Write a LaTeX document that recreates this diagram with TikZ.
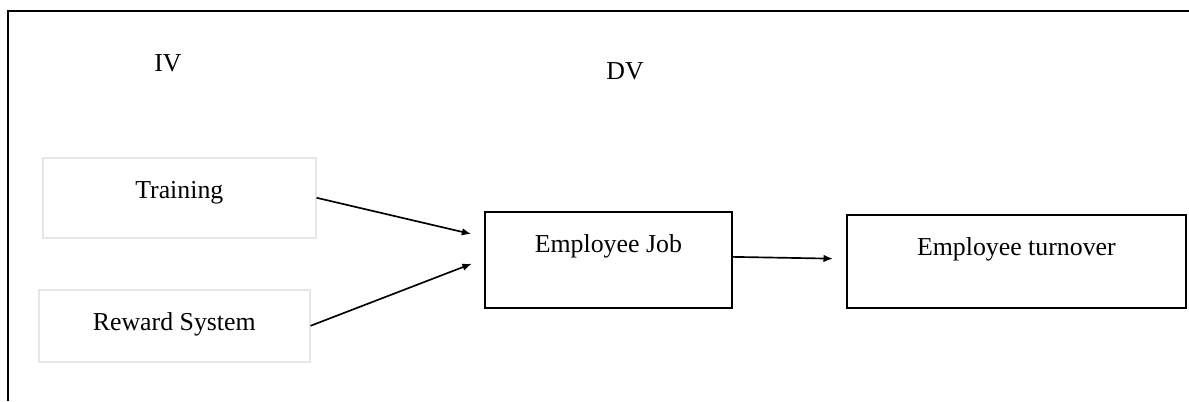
\documentclass[tikz,border=0pt]{standalone}
\usepackage{fontspec}
\setmainfont{Liberation Serif}
\usetikzlibrary{arrows.meta, positioning}
\definecolor{borde}{HTML}{E6E6E2}
\tikzset{
  every picture/.style={font=\fontsize{14.7}{17}\selectfont, >=Latex},
  ivbox/.style={draw=borde, line width=0.9pt, anchor=north west, inner xsep=0pt, inner ysep=0pt,
              text height=0.82cm, align=center},
  dvbox/.style={draw=black, line width=1pt, anchor=north west, inner xsep=0pt, inner ysep=0pt,
              text height=0.82cm, align=center},
  flecha/.style={-{Latex[length=1.9mm, width=1.5mm]}, line width=0.95pt, shorten >=0.26cm},
}
\begin{document}
\begin{tikzpicture}
  \useasboundingbox (0,0) rectangle (23.78,8.02);
  % marco
  \draw[line width=1.2pt] (0.16,0) -- (0.16,7.8) -- (23.78,7.8);
  \node[anchor=base] (IV) at (3.36,6.58) {IV};
  \node[anchor=base] (DV) at (12.5,6.42) {DV};
  \node[ivbox, minimum width=5.46cm, text depth=0.78cm] (T) at (0.84,4.88) {Training};
  \node[ivbox, minimum width=5.42cm, text depth=0.62cm] (R) at (0.76,2.24) {Reward System};
  \node[dvbox, minimum width=4.94cm, text depth=1.10cm] (J) at (9.68,3.80) {Employee Job};
  \node[dvbox, minimum width=6.78cm, text depth=1.04cm] (E) at (16.92,3.74) {Employee turnover};
  \coordinate (in1) at (9.68,3.28);
  \coordinate (in2) at (9.68,2.84);
  \draw[flecha] (T.east) -- (in1);
  \draw[flecha] (R.east) -- (in2);
  \draw[flecha] ([yshift=0.06cm]J.east) -- ([yshift=0.05cm]E.west);
\end{tikzpicture}
\end{document}
